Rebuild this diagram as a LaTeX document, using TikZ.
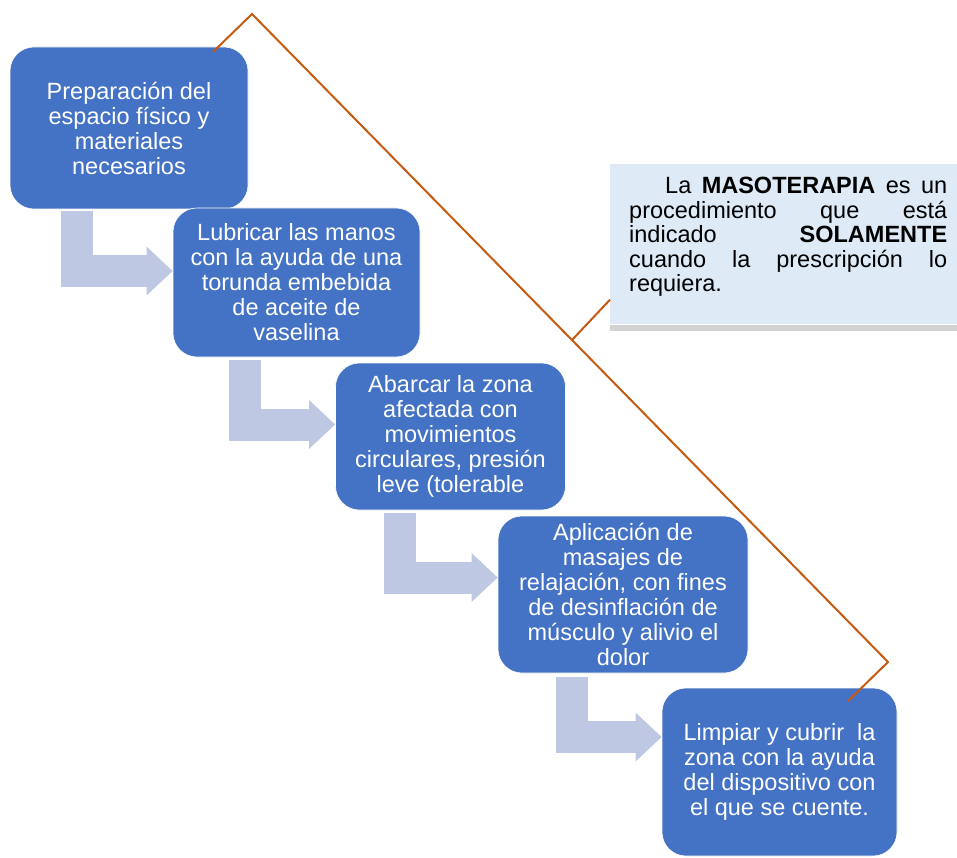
\documentclass[tikz,border=0pt]{standalone}
\usepackage{fontspec}
\setmainfont{Liberation Sans}
\usetikzlibrary{arrows.meta,calc}
\definecolor{stepblue}{HTML}{4472C4}
\definecolor{flowgray}{HTML}{BFC8E3}
\definecolor{notefill}{HTML}{DEEAF6}
\definecolor{noteshade}{HTML}{D2D2D2}
\definecolor{bracket}{HTML}{C55A11}
\tikzset{
  stepbox/.style={rectangle, rounded corners=24pt, fill=stepblue, draw=white, line width=0.6pt,
    text=white, align=center, inner sep=2pt, font=\fontsize{23.5}{25}\selectfont},
  flowarrow/.style={draw=flowgray, line width=32pt, line join=miter,
    -{Triangle[length=26pt,width=47pt]}},
  notebox/.style={rectangle, fill=notefill, text=black, text width=318pt, align=justify,
    inner xsep=19pt, inner ysep=13pt, font=\fontsize{23.5}{24.5}\selectfont},
  bracketline/.style={draw=bracket, line width=2pt}
}
\begin{document}
\begin{tikzpicture}[x=1pt,y=-1pt]
\useasboundingbox (0,0) rectangle (957,858);

% process steps
\node[stepbox, minimum width=238pt, minimum height=162pt] (b1) at (129,128)
  {Preparación del\\espacio físico y\\materiales\\necesarios};
\node[stepbox, minimum width=247pt, minimum height=149pt] (b2) at (296.5,282.5)
  {Lubricar las manos\\con la ayuda de una\\torunda embebida\\de aceite de\\vaselina};
\node[stepbox, minimum width=230pt, minimum height=147pt] (b3) at (450.5,436.5)
  {Abarcar la zona\\afectada con\\movimientos\\circulares, presión\\leve (tolerable};
\node[stepbox, minimum width=250pt, minimum height=157pt] (b4) at (623,594.5)
  {Aplicación de\\masajes de\\relajación, con fines\\de desinflación de\\músculo y alivio el\\dolor};
\node[stepbox, minimum width=235pt, minimum height=168pt] (b5) at (779.5,772)
  {Limpiar y cubrir\ \ la\\zona con la ayuda\\del dispositivo con\\el que se cuente.};

% bent arrows between steps
\draw[flowarrow] ($(b1.south west)+(67.5,2)$) |- ($(b2.west)+(0,-11.5)$);
\draw[flowarrow] ($(b2.south west)+(72.5,3)$) |- ($(b3.west)+(0,-12)$);
\draw[flowarrow] ($(b3.south west)+(64.5,3)$) |- ($(b4.west)+(0,-17)$);
\draw[flowarrow] ($(b4.south west)+(74,4)$) |- ($(b5.west)+(0,-35)$);

% note
\node[notebox, anchor=north west, minimum width=356pt] (note) at (610,164)
  {\hspace*{36pt}La \textbf{MASOTERAPIA} es un\linebreak
   procedimiento que está\linebreak
   indicado \textbf{SOLAMENTE}\linebreak
   cuando la prescripción lo\linebreak
   requiera.\par\vspace{15pt}};
\fill[noteshade] (note.south west) rectangle ($(note.south east)+(0,6)$);

% bracket line spanning the steps
\coordinate (k1) at (213,52);
\coordinate (k2) at (252,14);
\coordinate (k3) at (888,662);
\coordinate (k4) at (848,701);
\coordinate (tap) at (572,340);
\draw[bracketline] (k1) -- (k2) -- (k3) -- (k4);
\draw[bracketline] ($(note.south west)+(0,-25)$) -- (tap);
\end{tikzpicture}
\end{document}
